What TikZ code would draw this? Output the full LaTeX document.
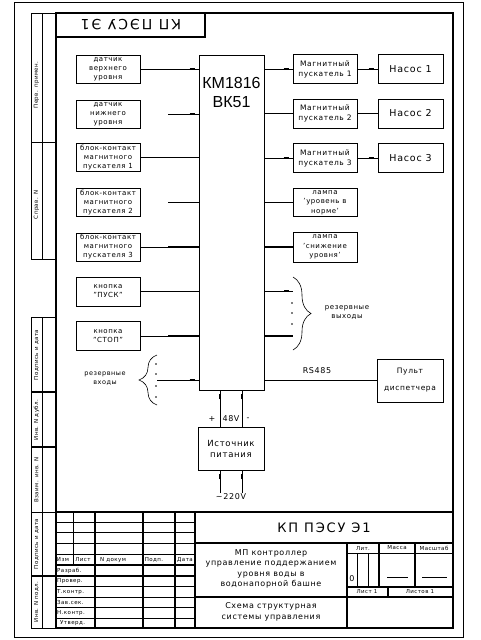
\documentclass[tikz,border=0pt]{standalone}
\usepackage{fontspec}
\setmainfont[LetterSpace=8]{DejaVu Sans}
\newfontfamily\cadbig{Liberation Sans}
\newfontfamily\cadwide[LetterSpace=14]{DejaVu Sans}
\usetikzlibrary{positioning,decorations.pathreplacing,decorations.markings}

\begin{document}
\begin{tikzpicture}[x=1pt,y=-1pt,
  fine/.style={line width=0.6pt},
  frm/.style={line width=1.4pt},
  box/.style={draw, line width=0.6pt, inner sep=0.5pt, align=center, font=\fontsize{7}{9}\selectfont},
  inbox/.style={box, minimum width=64, minimum height=28},
  outbox/.style={box, minimum width=64, minimum height=29, font=\fontsize{7.5}{10}\selectfont},
  wire/.style={line width=0.6pt},
  fatwire/.style={line width=1.8pt},
  wiretick/.style={postaction={decorate,decoration={markings,
      mark=at position -4pt with {\draw[line width=1.6pt] (-5pt,0) -- (0,0);}}}},
  strip/.style={rotate=90, inner sep=0pt, font=\fontsize{5.5}{6}\selectfont},
  hdr/.style={inner sep=0pt, font=\fontsize{5.5}{6}\selectfont},
  tbtext/.style={align=center, inner sep=0pt, font=\fontsize{8}{10.5}\selectfont},
  txt/.style={align=center, inner sep=0pt, font=\fontsize{7}{9}\selectfont}]
\fill[white] (0,0) rectangle (480,640);
\useasboundingbox (0,0) rectangle (480,640);

% frame
\draw[fine] (14,2) rectangle (463,637);
\draw[frm] (56,13) rectangle (453,628);
\draw[frm] (56,37) -- (205,37) -- (205,13);
\node[rotate=180, inner sep=0pt, font=\cadwide\fontsize{14}{16}\selectfont] (topcode) at (131,25) {КП ПЭСУ Э1};

% side strips
\draw[fine] (31,13) rectangle (56,259) (42,13) -- (42,259) (31,142) -- (56,142);
\draw[fine] (31,317) rectangle (56,628) (42,317) -- (42,628) (31,512) -- (56,512);
\draw[frm] (31,392) -- (56,392) (31,447) -- (56,447) (31,576) -- (56,576);
\node[strip] (s1) at (36.5,85) {Перв. примен.};
\node[strip] (s2) at (36.5,205) {Справ. N};
\node[strip] (s3) at (36.5,355) {Подпись и дата};
\node[strip] (s4) at (36.5,420) {Инв. N дубл.};
\node[strip] (s5) at (36.5,480) {Взаим. инв. N};
\node[strip] (s6) at (36.5,544) {Подпись и дата};
\node[strip] (s7) at (36.5,602) {Инв. N подл.};

% controller
\node[box, minimum width=65, minimum height=335] (mk) at (231.5,222.5) {};
\node[align=center, inner sep=0pt, font=\cadbig\fontsize{16}{19}\selectfont] (mkname) at (231.5,92.5) {КМ1816\\ВК51};

% inputs
\node[inbox] (d1) at (108,69) {датчик\\верхнего\\уровня};
\node[inbox] (d2) at (108,114) {датчик\\нижнего\\уровня};
\node[inbox] (bk1) at (108,157.5) {блок-контакт\\магнитного\\пускателя 1};
\node[inbox] (bk2) at (108,202.5) {блок-контакт\\магнитного\\пускателя 2};
\node[inbox] (bk3) at (108,247) {блок-контакт\\магнитного\\пускателя 3};
\node[inbox, minimum height=29] (pusk) at (108,291.5) {кнопка\\"ПУСК"};
\node[inbox, minimum height=29] (stop) at (108,336) {кнопка\\"СТОП"};

\draw[wire,wiretick] (d1.east) -- (d1.east -| mk.west);
\draw[wire,wiretick] ([xshift=28pt]d2.east) -- (d2.east -| mk.west);
\draw[wire,wiretick] (bk1.east) -- (bk1.east -| mk.west);
\draw[wire] ([xshift=28pt]bk2.east) -- (bk2.east -| mk.west);
\draw[wire] (bk3.east) -- (bk3.east -| mk.west);
\draw[fatwire] ([xshift=28pt]bk3.east) -- (bk3.east -| mk.west);
\draw[wire,wiretick] (pusk.east) -- (pusk.east -| mk.west);
\draw[wire] (stop.east) -- (stop.east -| mk.west);
\draw[fatwire] ([xshift=28pt]stop.east) -- (stop.east -| mk.west);

% reserve inputs
\coordinate (vin) at (157,380);
\draw[wire,wiretick] (vin) -- (vin -| mk.west);
\draw[wire, decorate, decoration={brace, amplitude=18pt}] (157,405) -- (157,355);
\fill (156,364) circle (0.9) (156,374) circle (0.9) (156,386) circle (0.9) (156,397) circle (0.9);
\node[txt, font=\fontsize{6.5}{9}\selectfont] (vintxt) at (105,378.5) {резервные\\входы};

% outputs
\node[outbox] (mp1) at (325,69) {Магнитный\\пускатель 1};
\node[outbox] (mp2) at (325,113.5) {Магнитный\\пускатель 2};
\node[outbox] (mp3) at (325,158) {Магнитный\\пускатель 3};
\node[inbox, font=\fontsize{7}{9.5}\selectfont] (l1) at (325,202.5) {лампа\\'уровень в\\норме'};
\node[inbox, font=\fontsize{7}{9.5}\selectfont, minimum height=30] (l2) at (325,247) {лампа\\'снижение\\уровня'};
\node[box, minimum width=65, minimum height=29, font=\fontsize{9.5}{11}\selectfont] (n1) at (410.5,69) {Насос 1};
\node[box, minimum width=65, minimum height=29, font=\fontsize{9.5}{11}\selectfont] (n2) at (410.5,113.5) {Насос 2};
\node[box, minimum width=65, minimum height=29, font=\fontsize{9.5}{11}\selectfont] (n3) at (410.5,158) {Насос 3};

\draw[wire,wiretick] (mp1.west -| mk.east) -- (mp1.west);
\draw[wire,wiretick] (mp2.west -| mk.east) -- (mp2.west);
\draw[wire,wiretick] (mp3.west -| mk.east) -- (mp3.west);
\draw[wire] (l1.west -| mk.east) -- (l1.west);
\draw[fatwire] (l2.west -| mk.east) -- (l2.west);
\draw[wire,wiretick] (mp1.east) -- (n1.west);
\draw[wire,wiretick] (mp2.east) -- (n2.west);
\draw[wire,wiretick] (mp3.east) -- (n3.west);

% reserve outputs
\coordinate (vout1) at (293,291);
\coordinate (vout2) at (293,336);
\draw[wire,wiretick] (vout1 -| mk.east) -- (vout1);
\draw[fatwire] (vout2 -| mk.east) -- (vout2);
\draw[wire, decorate, decoration={brace, amplitude=18pt}] (293,277) -- (293,350);
\fill (292,303) circle (0.9) (292,313) circle (0.9) (292,324) circle (0.9);
\node[txt] (vouttxt) at (347,312.5) {резервные\\выходы};

% dispatcher
\node[box, minimum width=66, minimum height=43, font=\fontsize{7.5}{17}\selectfont] (pult) at (410,380.5) {Пульт\\диспетчера};
\draw[wire,wiretick] (pult.west -| mk.east) -- (pult.west);
\node[txt, font=\fontsize{8}{9}\selectfont] (rs) at (317,371) {RS485};

% power supply
\node[box, minimum width=66, minimum height=43, font=\fontsize{8.5}{11}\selectfont] (ip) at (231,448.5) {Источник\\питания};
\draw[wire,wiretick] ([xshift=-11pt]ip.north) -- ([xshift=-11pt]ip.north |- mk.south);
\draw[wire,wiretick] ([xshift=11pt]ip.north) -- ([xshift=11pt]ip.north |- mk.south);
\node[txt, font=\fontsize{8}{9}\selectfont] (plus) at (212,419) {+};
\node[txt, font=\fontsize{8}{9}\selectfont] (v48) at (231,419) {48V};
\node[txt, font=\fontsize{8}{9}\selectfont] (minus) at (248,419) {-};
\node[txt, anchor=north, font=\fontsize{8}{9}\selectfont] (ac) at (231,493) {\textasciitilde220V};
\draw[wire,wiretick] ([xshift=-11pt]ac.north) -- ([xshift=-11pt]ac.north |- ip.south);
\draw[wire,wiretick] ([xshift=11pt]ac.north) -- ([xshift=11pt]ac.north |- ip.south);

% title block
\draw[frm] (56,512) -- (453,512);
\draw[fine] (56,522) -- (195,522) (56,532) -- (195,532) (56,543) -- (195,543) (56,554) -- (195,554);
\draw[frm] (56,565) -- (195,565) (56,576) -- (195,576);
\draw[fine] (56,586) -- (195,586) (56,597) -- (195,597) (56,607) -- (195,607) (56,618) -- (195,618);
\draw[fine] (73,512) -- (73,565);
\draw[frm] (95,512) -- (95,628) (143,512) -- (143,628) (175,512) -- (175,628) (195,512) -- (195,628);
\draw[frm] (195,543) -- (453,543) (347,543) -- (347,628);
\draw[fine] (347,553) -- (453,553);
\draw[frm] (379,543) -- (379,587) (415,543) -- (415,587);
\draw[fine] (357,553) -- (357,587) (368,553) -- (368,587);
\draw[frm] (347,587) -- (453,587) (195,597) -- (453,597) (388,587) -- (388,597);
\draw[fine] (387,577) -- (408,577) (422,577) -- (447,577);

\node[hdr] (h1) at (63,560) {Изм};
\node[hdr] (h2) at (83,560) {Лист};
\node[hdr] (h3) at (113,560) {N докум};
\node[hdr] (h4) at (154,560) {Подп.};
\node[hdr] (h5) at (185,560) {Дата};
\node[hdr, anchor=west] (r1) at (57,571) {Разраб.};
\node[hdr, anchor=west] (r2) at (57,581) {Провер.};
\node[hdr, anchor=west] (r3) at (57,592) {Т.контр.};
\node[hdr, anchor=west] (r4) at (57,602) {Зав.сек.};
\node[hdr, anchor=west] (r5) at (57,613) {Н.контр.};
\node[hdr, anchor=west] (r6) at (60,623) {Утверд.};

\node[inner sep=0pt, font=\cadwide\fontsize{13}{14}\selectfont] (code) at (324,528) {КП ПЭСУ Э1};
\node[tbtext] (docname) at (271,569) {МП контроллер\\управление поддержанием\\уровня воды в\\водонапорной башне};
\node[tbtext] (dockind) at (271,612) {Схема структурная\\системы управления};
\node[hdr] (lit) at (363,548) {Лит.};
\node[hdr] (mass) at (397,548) {Масса};
\node[hdr] (scl) at (434,548) {Масштаб};
\node[txt, font=\fontsize{8}{9}\selectfont] (zero) at (352,579) {0};
\node[hdr] (sheet) at (367,592) {Лист 1};
\node[hdr] (sheets) at (420,592) {Листов 1};
\end{tikzpicture}
\end{document}
